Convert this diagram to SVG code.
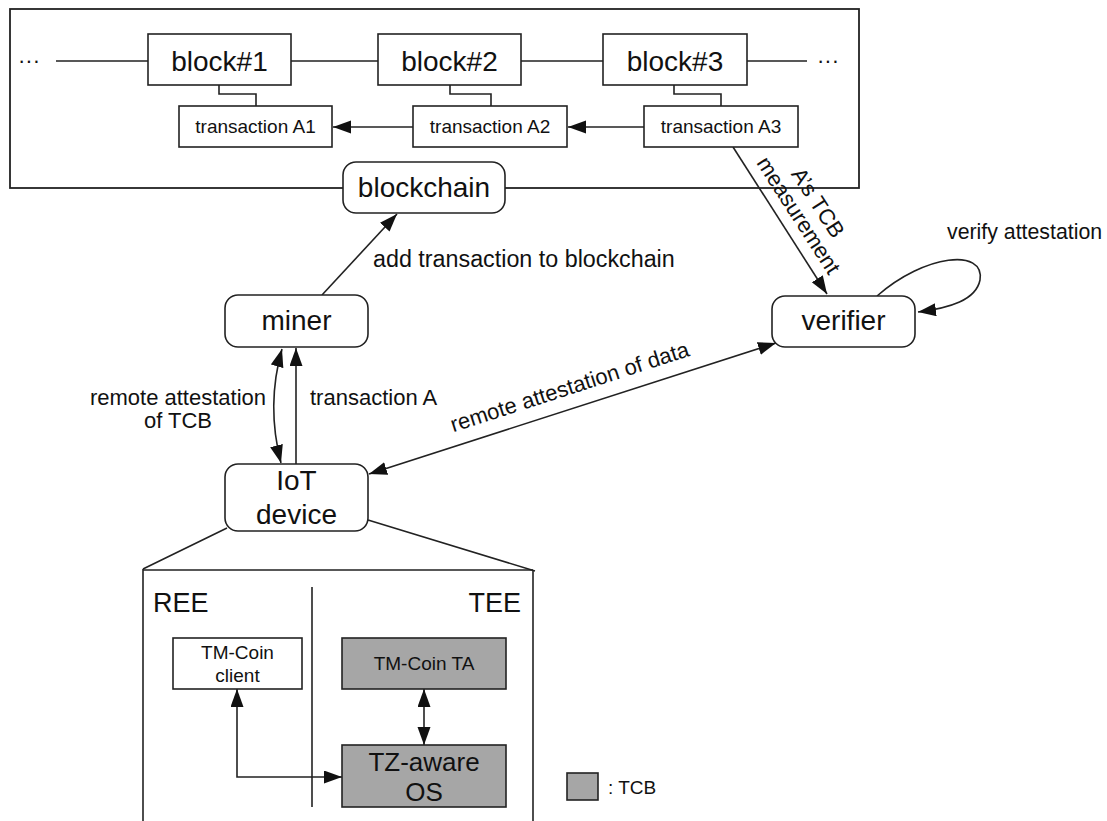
<svg xmlns="http://www.w3.org/2000/svg" width="1107" height="821" viewBox="0 0 1107 821">
  <style>
    .box { fill: #ffffff; stroke: #222222; stroke-width: 1.6; }
    .tcb { fill: #a6a6a6; stroke: #222222; stroke-width: 1.6; }
    .frame { fill: none; stroke: #222222; stroke-width: 1.8; }
    .line { fill: none; stroke: #222222; stroke-width: 1.6; }
    .arrow { fill: none; stroke: #222222; stroke-width: 1.6; marker-end: url(#head); }
    .both { fill: none; stroke: #222222; stroke-width: 1.6; marker-start: url(#head); marker-end: url(#head); }
    text { font-family: "Liberation Sans", Arial, Helvetica, sans-serif; fill: #111111; }
    .big { font-size: 28px; text-anchor: middle; }
    .mid { font-size: 26px; text-anchor: middle; }
    .lbl { font-size: 22px; }
    .small { font-size: 19px; text-anchor: middle; }
  </style>
  <defs>
    <marker id="head" markerUnits="userSpaceOnUse" markerWidth="20" markerHeight="14" refX="18" refY="6.5" orient="auto-start-reverse">
      <path d="M0,0 L18,6.5 L0,13 Z" fill="#111111"/>
    </marker>
  </defs>

  <rect width="1107" height="821" fill="#ffffff"/>

  <!-- ledger frame with the chain of blocks -->
  <g id="ledger">
    <rect class="frame" x="10" y="9" width="849" height="179"/>
    <text class="lbl" x="18" y="68">···</text>
    <text class="lbl" x="817" y="68">···</text>
  </g>

  <!-- connectors -->
  <g id="connectors">
    <!-- chain links -->
    <path class="line" d="M56,61 H148 M291,61 H378 M521,61 H603 M747,61 H807"/>
    <!-- block to transaction stubs -->
    <path class="line" d="M219,85 V94 H256 V106"/>
    <path class="line" d="M450,85 V94 H491 V106"/>
    <path class="line" d="M674,85 V94 H721 V106"/>
    <!-- transaction back-references -->
    <path class="arrow" d="M413,127 H333"/>
    <path class="arrow" d="M644,127 H568"/>
    <!-- A's TCB measurement -->
    <path class="arrow" d="M733,147 L827,294"/>
    <!-- verifier self loop -->
    <path class="arrow" d="M877,296 C925,254 985,248 980,280 C976,300 950,308 918,312"/>
    <!-- miner to blockchain -->
    <path class="arrow" d="M322,295 L397,214"/>
    <!-- transaction A -->
    <path class="arrow" d="M296,464 V348"/>
    <!-- remote attestation of TCB -->
    <path class="both" d="M282,349 Q266,405 281,463"/>
    <!-- remote attestation of data -->
    <path class="both" d="M369,474 L776,343"/>
    <!-- zoom-in lines from the device -->
    <path class="line" d="M227,528 L143,569 M368,520 L535,571"/>
    <!-- TA to OS -->
    <path class="both" d="M424,689 V745"/>
    <!-- client to OS -->
    <path class="both" d="M237,689 V777 H342"/>
  </g>

  <!-- chain blocks -->
  <g id="block1">
    <rect class="box" x="148" y="34" width="143" height="51"/>
    <text class="big" x="219.5" y="71">block#1</text>
  </g>
  <g id="block2">
    <rect class="box" x="378" y="34" width="143" height="51"/>
    <text class="big" x="449.5" y="71">block#2</text>
  </g>
  <g id="block3">
    <rect class="box" x="603" y="34" width="144" height="51"/>
    <text class="big" x="675" y="71">block#3</text>
  </g>

  <!-- transactions -->
  <g id="txA1">
    <rect class="box" x="179" y="106" width="153" height="41"/>
    <text class="small" x="255.5" y="133">transaction A1</text>
  </g>
  <g id="txA2">
    <rect class="box" x="413" y="106" width="154" height="41"/>
    <text class="small" x="490" y="133">transaction A2</text>
  </g>
  <g id="txA3">
    <rect class="box" x="644" y="106" width="154" height="41"/>
    <text class="small" x="721" y="133">transaction A3</text>
  </g>

  <!-- main actors -->
  <g id="blockchain">
    <rect class="box" x="343" y="162" width="162" height="51" rx="13"/>
    <text class="big" x="424" y="197">blockchain</text>
  </g>
  <g id="miner">
    <rect class="box" x="225" y="295" width="143" height="52" rx="13"/>
    <text class="big" x="296.5" y="330">miner</text>
  </g>
  <g id="verifier">
    <rect class="box" x="772" y="296" width="143" height="51" rx="13"/>
    <text class="big" x="843.5" y="330">verifier</text>
  </g>
  <g id="iot-device">
    <rect class="box" x="225" y="464" width="143" height="67" rx="13"/>
    <text class="big" x="296.5" y="490">IoT</text>
    <text class="big" x="296.5" y="524">device</text>
  </g>

  <!-- edge labels -->
  <g id="labels">
    <text class="lbl" x="373" y="267" style="font-size:23.3px">add transaction to blockchain</text>
    <text class="lbl" x="310" y="405">transaction A</text>
    <text class="lbl" x="178" y="405" text-anchor="middle">remote attestation</text>
    <text class="lbl" x="178" y="428" text-anchor="middle">of TCB</text>
    <text class="lbl" x="947" y="239" style="font-size:21.3px">verify attestation</text>
    <g transform="translate(807.5,209.5) rotate(57.2)">
      <text class="lbl" x="0" y="-5" text-anchor="middle">A’s TCB</text>
      <text class="lbl" x="0" y="18" text-anchor="middle">measurement</text>
    </g>
    <text class="lbl" transform="translate(572,394) rotate(-17.9)" text-anchor="middle">remote attestation of data</text>
  </g>

  <!-- device internals -->
  <g id="device-detail">
    <path class="line" d="M143,569 V821 M143,570 H533 M533,570 V821"/>
    <path class="line" d="M312,587 V807"/>
    <text class="lbl" x="153" y="612" style="font-size:27px">REE</text>
    <text class="lbl" x="521" y="612" style="font-size:27px" text-anchor="end">TEE</text>
  </g>
  <g id="tm-coin-client">
    <rect class="box" x="173" y="638" width="129" height="51"/>
    <text class="small" x="237.5" y="659">TM-Coin</text>
    <text class="small" x="237.5" y="682">client</text>
  </g>
  <g id="tm-coin-ta">
    <rect class="tcb" x="342" y="638" width="164" height="51"/>
    <text class="small" x="424" y="670">TM-Coin TA</text>
  </g>
  <g id="tz-aware-os">
    <rect class="tcb" x="342" y="745" width="164" height="62"/>
    <text class="mid" x="424" y="771">TZ-aware</text>
    <text class="mid" x="424" y="801">OS</text>
  </g>

  <!-- legend -->
  <g id="legend">
    <rect class="tcb" x="567" y="773" width="31" height="27"/>
    <text class="small" x="608" y="794" style="text-anchor:start">: TCB</text>
  </g>
</svg>
